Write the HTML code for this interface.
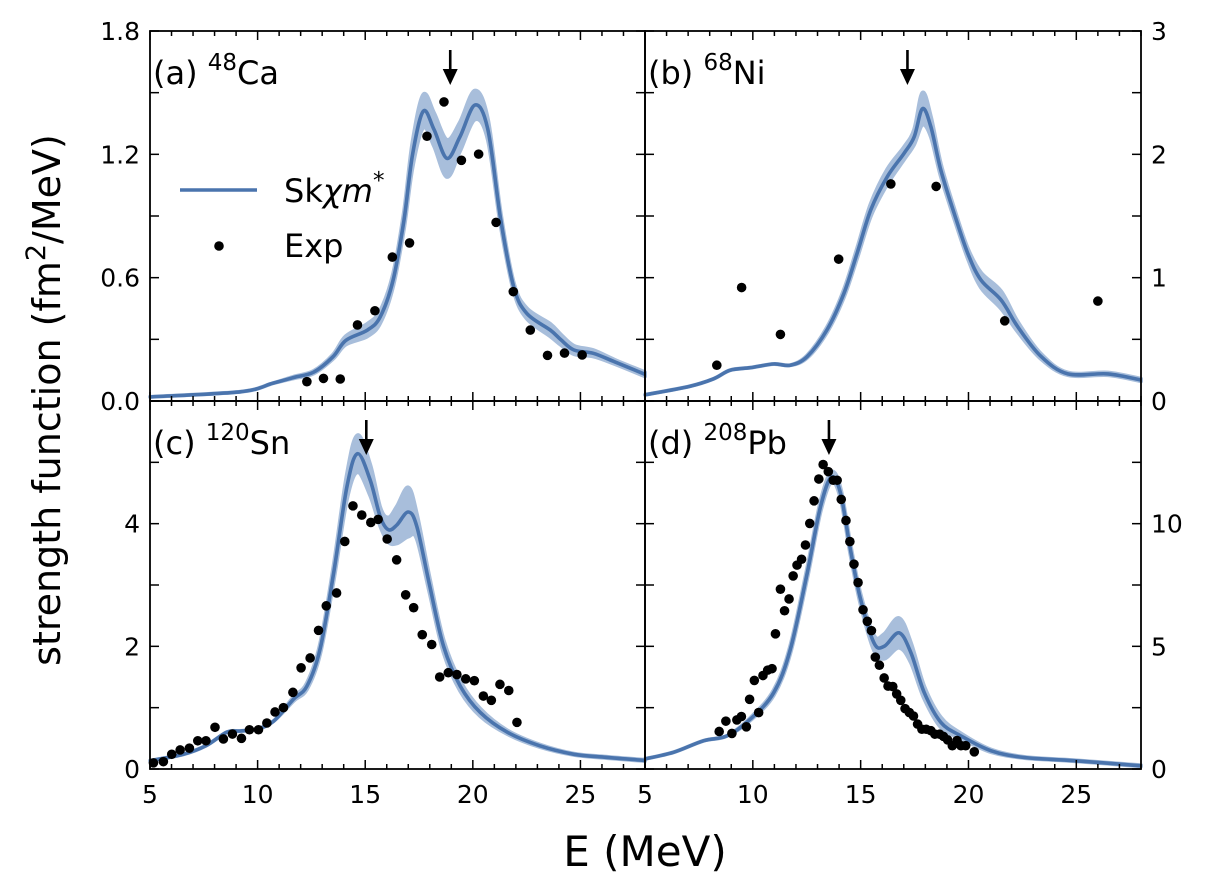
<!DOCTYPE html>
<html><head><meta charset="utf-8">
<style>
html,body{margin:0;padding:0;background:#fff;}
svg{display:block;font-family:"DejaVu Sans","Liberation Sans",sans-serif;}
</style></head>
<body>
<svg id="chart" width="1214" height="894" viewBox="0 0 1214 894" xmlns="http://www.w3.org/2000/svg">
<g id="bands"></g><g id="lines"></g><g id="dots"></g><g id="frames"></g><g id="labels"></g>
</svg>
<script>
// ---- data: panel a (48Ca) ----
const aE   = [5,9.2,10.7,11.7,12.6,13.5,14.1,15.1,15.7,16.3,16.8,17.2,17.7,18.2,18.8,19.4,20.1,20.7,21.3,21.9,22.5,23.6,24.1,24.7,25.6,26.6,28];
const aY   = [0.02,0.045,0.086,0.115,0.14,0.215,0.295,0.345,0.41,0.59,0.88,1.2,1.41,1.32,1.18,1.285,1.44,1.32,0.88,0.556,0.427,0.345,0.297,0.248,0.232,0.19,0.13];
const aW   = [0,0,0,0.004,0.006,0.01,0.02,0.03,0.03,0.03,0.04,0.06,0.08,0.08,0.09,0.07,0.07,0.05,0.03,0.02,0.025,0.03,0.025,0.02,0.015,0.01,0.01];
const aExpE = [12.29,13.06,13.84,14.64,15.45,16.26,17.06,17.87,18.66,19.47,20.27,21.08,21.88,22.67,23.47,24.26,25.08];
const aExpY = [0.094,0.110,0.107,0.370,0.439,0.700,0.769,1.288,1.455,1.171,1.201,0.869,0.532,0.345,0.222,0.233,0.224];
const aArrow = 18.95;
// ---- data: panel b (68Ni) ----
const bE   = [5,7.09,8.18,8.95,9.88,10.97,11.74,12.52,13.45,14.22,14.84,15.47,16.24,17.02,17.48,17.87,18.26,18.72,19.34,19.96,20.58,21.51,22.29,23.37,24.61,26.47,28];
const bY   = [0.05,0.12,0.18,0.25,0.27,0.3,0.29,0.36,0.58,0.87,1.2,1.55,1.82,2.01,2.14,2.37,2.22,1.87,1.52,1.2,0.98,0.82,0.6,0.36,0.22,0.22,0.17];
const bW   = [0,0,0,0,0,0,0,0.01,0.02,0.03,0.04,0.05,0.06,0.05,0.06,0.13,0.08,0.05,0.04,0.04,0.06,0.07,0.04,0.02,0.01,0.01,0.01];
const bExpE = [8.33,9.48,11.28,13.98,16.40,18.5,21.68,26.0];
const bExpY = [0.29,0.92,0.54,1.15,1.76,1.74,0.65,0.81];
const bArrow = 17.17;
// ---- data: panel c (120Sn) ----
const cE   = [5,6.55,7.6,8.57,9.19,9.96,10.74,11.67,12.29,12.9,13.53,14.15,14.64,15.23,15.7,16.08,16.47,17.0,17.4,18.0,18.64,19.42,20.35,21.6,23.1,24.7,26.2,28];
const cY   = [0.135,0.24,0.38,0.6,0.62,0.65,0.78,1.14,1.35,1.95,3.19,4.6,5.14,4.71,4.11,3.9,3.98,4.19,3.95,2.98,2.0,1.35,0.92,0.6,0.38,0.24,0.19,0.14];
const cW   = [0,0,0,0,0,0,0,0.03,0.05,0.08,0.12,0.2,0.3,0.25,0.15,0.2,0.3,0.4,0.2,0.12,0.1,0.08,0.06,0.03,0.02,0.01,0.01,0.01];
const cExpE = [5.16,5.62,6.01,6.40,6.83,7.22,7.60,8.02,8.41,8.83,9.25,9.62,10.04,10.43,10.81,11.2,11.64,12.02,12.44,12.83,13.19,13.67,14.05,14.43,14.84,15.26,15.6,16.02,16.46,16.88,17.25,17.65,18.09,18.46,18.86,19.26,19.67,20.07,20.49,20.86,21.26,21.67,22.05];
const cExpY = [0.10,0.12,0.24,0.31,0.34,0.46,0.46,0.68,0.49,0.57,0.50,0.64,0.64,0.75,0.93,1.0,1.25,1.65,1.81,2.26,2.66,2.87,3.71,4.29,4.14,4.02,4.07,3.75,3.41,2.84,2.63,2.19,2.03,1.50,1.57,1.54,1.47,1.44,1.19,1.12,1.38,1.28,0.76];
const cArrow = 15.05;
// ---- data: panel d (208Pb) ----
const dE   = [5,6.32,7.71,8.8,9.88,10.97,11.74,12.52,13.14,13.64,14.07,14.53,15.0,15.62,16.09,16.78,17.33,17.95,18.72,19.65,21.05,22.6,24.9,28];
const dY   = [0.41,0.68,1.15,1.35,2.03,3.11,4.87,7.98,10.69,11.9,11.23,8.93,6.9,5.14,5.0,5.55,4.74,3.11,1.9,1.35,0.74,0.47,0.34,0.13];
const dW   = [0,0,0,0,0.05,0.1,0.15,0.2,0.2,0.2,0.2,0.2,0.2,0.3,0.5,0.6,0.4,0.25,0.2,0.1,0.05,0.02,0.02,0.02];
const dExpE = [8.44,8.75,9.03,9.26,9.47,9.70,9.85,10.27,10.07,10.47,10.69,10.89,11.05,11.28,11.47,11.68,11.87,12.05,12.26,12.44,12.64,12.84,13.06,13.26,13.50,13.73,13.91,14.10,14.32,14.50,14.69,14.88,15.11,15.31,15.50,15.68,15.87,16.09,16.27,16.49,16.67,16.86,17.06,17.26,17.45,17.64,17.84,18.04,18.26,18.44,18.66,18.84,19.03,19.25,19.47,19.65,19.87,20.27];
const dExpY = [1.53,1.95,1.45,2.0,2.14,1.72,2.84,2.30,3.61,3.81,4.03,4.09,5.51,7.33,6.45,6.93,7.87,8.31,8.55,9.13,10.01,10.93,11.82,12.41,12.12,11.77,11.77,10.99,10.13,9.27,8.35,7.60,6.49,6.02,5.64,4.56,4.23,3.71,3.38,3.36,3.06,2.80,2.46,2.30,2.16,1.83,1.62,1.62,1.56,1.42,1.42,1.33,1.19,0.95,1.16,0.95,0.95,0.70];
const dArrow = 13.53;
// ---- tick labels ----
const xTicks = [5,10,15,20,25];
const aTicks = [0,0.6,1.2,1.8], aTickLabels = ["0.0","0.6","1.2","1.8"];
const bTicks = [0,1,2,3], bTickLabels = ["0","1","2","3"];
const cTicks = [0,2,4], cTickLabels = ["0","2","4"];
const dTicks = [0,5,10], dTickLabels = ["0","5","10"];

const NS="http://www.w3.org/2000/svg";
const svg=document.getElementById('chart');
function mk(tag,parent,attrs){const e=document.createElementNS(NS,tag);for(const k in attrs)e.setAttribute(k,attrs[k]);parent.appendChild(e);return e;}
const G={bands:document.getElementById('bands'),lines:document.getElementById('lines'),dots:document.getElementById('dots'),frames:document.getElementById('frames'),labels:document.getElementById('labels')};
const LINE="#4a74ad", BAND="#a8bedb";

function smooth(pts){let d="M"+pts[0][0].toFixed(1)+","+pts[0][1].toFixed(1);
  for(let i=0;i<pts.length-1;i++){const p0=pts[Math.max(0,i-1)],p1=pts[i],p2=pts[i+1],p3=pts[Math.min(pts.length-1,i+2)];
    const c1=[p1[0]+(p2[0]-p0[0])/6,p1[1]+(p2[1]-p0[1])/6],c2=[p2[0]-(p3[0]-p1[0])/6,p2[1]-(p3[1]-p1[1])/6];
    d+=" C"+c1[0].toFixed(1)+","+c1[1].toFixed(1)+" "+c2[0].toFixed(1)+","+c2[1].toFixed(1)+" "+p2[0].toFixed(1)+","+p2[1].toFixed(1);}
  return d;}

function panel(p){
  const x=v=>p.x0+(v-5)/23*(p.x1-p.x0);
  const y=v=>p.y1-v/p.ymax*(p.y1-p.y0);
  const hi=p.E.map((e,i)=>[x(e),y(p.Y[i]+p.W[i])]);
  const lo=p.E.map((e,i)=>[x(e),y(Math.max(0,p.Y[i]-p.W[i]))]).reverse();
  const band=mk('path',G.bands,{d:smooth(hi)+" L"+smooth(lo).slice(1)+" Z",fill:BAND,stroke:BAND,'stroke-width':4,'stroke-linejoin':'round'});
  
  
  const ln=mk('path',G.lines,{d:smooth(p.E.map((e,i)=>[x(e),y(p.Y[i])])),fill:'none',stroke:LINE,'stroke-width':3.6});
  
  
  p.XE.forEach((e,i)=>{const c=mk('circle',G.dots,{cx:x(e),cy:y(p.XY[i]),r:4.8,fill:'#000'});
    
    });
  const fr=mk('rect',G.frames,{x:p.x0,y:p.y0,width:p.x1-p.x0,height:p.y1-p.y0,fill:'none',stroke:'#000','stroke-width':1.8});
  
  
  for(let e=5;e<=28;e++){const L=(e%5===0)?9:5;const xx=x(e);
    mk('line',G.frames,{x1:xx,x2:xx,y1:p.y1,y2:p.y1-L,stroke:'#000','stroke-width':1.5});
    mk('line',G.frames,{x1:xx,x2:xx,y1:p.y0,y2:p.y0+L,stroke:'#000','stroke-width':1.5});}
  for(let k=0;k<=p.nY;k++){const yy=p.y1-k*(p.y1-p.y0)/p.nY;
    mk('line',G.frames,{x1:p.x0,x2:p.x0+9,y1:yy,y2:yy,stroke:'#000','stroke-width':1.5});
    mk('line',G.frames,{x1:p.x1,x2:p.x1-9,y1:yy,y2:yy,stroke:'#000','stroke-width':1.5});}
  p.ticks.forEach((t,i)=>{const yy=y(t)+9;
    const tl=(p.tickLabelsSide==='left')
      ? mk('text',G.labels,{x:p.x0-10,y:yy,'text-anchor':'end','font-size':25})
      : mk('text',G.labels,{x:p.x1+10,y:yy,'text-anchor':'start','font-size':25});
    tl.textContent=p.tickLabels[i];
    
    });
  if(p.bottom){xTicks.forEach(t=>{const tl=mk('text',G.labels,{x:x(t),y:p.y1+34,'text-anchor':'middle','font-size':25});tl.textContent=t;
    
    });}
  const ax=x(p.arrow);
  const ar=mk('g',G.labels,{});
  
  
  mk('line',ar,{x1:ax,x2:ax,y1:p.y0+19,y2:p.y0+44,stroke:'#000','stroke-width':2.6});
  mk('path',ar,{d:`M${ax-7.5},${p.y0+38} L${ax+7.5},${p.y0+38} L${ax},${p.y0+54} Z`,fill:'#000'});
  const pl=mk('text',G.labels,{x:p.x0+3,y:p.y0+53,'font-size':32});
  pl.innerHTML=p.label[0]+' <tspan dy="-14" font-size="23">'+p.label[1]+'</tspan><tspan dy="14">'+p.label[2]+'</tspan>';
  
  
}
const Lx=150,Mx=645,Rx=1141,Ty=31,My=401,By=769;
panel({id:'panel-a',x0:Lx,x1:Mx,y0:Ty,y1:My,ymax:1.8,nY:6,E:aE,Y:aY,W:aW,XE:aExpE,XY:aExpY,arrow:aArrow,ticks:aTicks,tickLabels:aTickLabels,tickLabelsSide:'left',label:['(a)','48','Ca']});
panel({id:'panel-b',x0:Mx,x1:Rx,y0:Ty,y1:My,ymax:3,nY:6,E:bE,Y:bY,W:bW,XE:bExpE,XY:bExpY,arrow:bArrow,ticks:bTicks,tickLabels:bTickLabels,tickLabelsSide:'right',label:['(b)','68','Ni']});
panel({id:'panel-c',x0:Lx,x1:Mx,y0:My,y1:By,ymax:6,nY:6,E:cE,Y:cY,W:cW,XE:cExpE,XY:cExpY,arrow:cArrow,ticks:cTicks,tickLabels:cTickLabels,tickLabelsSide:'left',bottom:true,label:['(c)','120','Sn']});
panel({id:'panel-d',x0:Mx,x1:Rx,y0:My,y1:By,ymax:15,nY:6,E:dE,Y:dY,W:dW,XE:dExpE,XY:dExpY,arrow:dArrow,ticks:dTicks,tickLabels:dTickLabels,tickLabelsSide:'right',bottom:true,label:['(d)','208','Pb']});

const lg=mk('g',G.labels,{});


const l1=mk('line',lg,{x1:180,x2:257,y1:190,y2:190,stroke:LINE,'stroke-width':3.6});


const t1=mk('text',lg,{x:284,y:202,'font-size':32});
t1.innerHTML='Sk<tspan font-style="italic">χm</tspan><tspan dy="-14" font-size="23">*</tspan>';


const d1=mk('circle',lg,{cx:219,cy:246,r:4.8,fill:'#000'});


const t2=mk('text',lg,{x:284,y:257,'font-size':32});
t2.textContent='Exp';



const xt=mk('text',G.labels,{x:645,y:866,'text-anchor':'middle','font-size':42});
xt.textContent='E (MeV)';


const yt=mk('text',G.labels,{x:0,y:0,'text-anchor':'middle','font-size':38,transform:'translate(60,400) rotate(-90)'});
yt.innerHTML='strength function (fm<tspan dy="-15" font-size="27">2</tspan><tspan dy="15">/MeV)</tspan>';


</script>
</body></html>
